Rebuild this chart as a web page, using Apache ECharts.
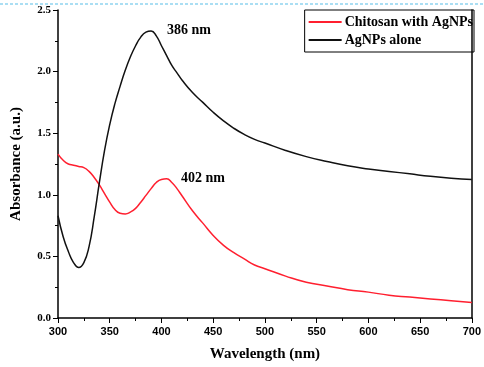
<!DOCTYPE html>
<html>
<head>
<meta charset="utf-8">
<script src="https://cdn.jsdelivr.net/npm/echarts@6/dist/echarts.min.js"></script>
<style>
  html, body { margin: 0; padding: 0; background: #fff; }
  #chart { width: 484px; height: 367px; }
</style>
</head>
<body>
<div id="chart"></div>
<script>
var wavelength = [300, 305, 310, 315, 320, 325, 330, 335, 340, 345, 350, 355, 360, 365, 370, 375, 380, 385, 390, 395,
    400, 405, 410, 415, 420, 430, 440, 450, 460, 470, 480, 490, 500, 520, 540, 560, 580, 600, 620, 640, 660, 680, 700];

var agAlone = [0.83, 0.66, 0.54, 0.45, 0.41, 0.45, 0.58, 0.82, 1.10, 1.36, 1.57, 1.74, 1.88, 2.01, 2.12, 2.21, 2.28, 2.32, 2.33, 2.29,
    2.21, 2.13, 2.05, 1.99, 1.93, 1.83, 1.75, 1.67, 1.60, 1.54, 1.49, 1.45, 1.42, 1.36, 1.31, 1.27, 1.235, 1.21, 1.19, 1.17, 1.15, 1.135, 1.125];

var chitosanAg = [1.33, 1.28, 1.25, 1.24, 1.23, 1.22, 1.19, 1.14, 1.08, 1.01, 0.94, 0.88, 0.85, 0.845, 0.86, 0.89, 0.94, 0.995, 1.05, 1.10,
    1.125, 1.13, 1.10, 1.05, 0.99, 0.87, 0.77, 0.67, 0.59, 0.53, 0.48, 0.43, 0.40, 0.34, 0.29, 0.26, 0.23, 0.21, 0.185, 0.17, 0.155, 0.14, 0.125];

var seriesNames = ['Chitosan with AgNPs', 'AgNPs alone'];
var peakLabels = [{ text: '386 nm', x: 167, y: 23 }, { text: '402 nm', x: 181, y: 171 }];

function pairs(ys) {
    var out = [];
    for (var i = 0; i < wavelength.length; i++) out.push([wavelength[i], ys[i]]);
    return out;
}

var serif = 'Liberation Serif, Times New Roman, serif';
var sans = 'Liberation Sans, Arial, sans-serif';

var myChart = echarts.init(document.getElementById('chart'));
var option = {
    animation: false,
    grid: { left: 58, right: 10, top: 10, bottom: 48 },
    legend: {
        orient: 'vertical',
        right: 10,
        top: 10,
        padding: [5, 1, 5, 4],
        itemGap: 4,
        itemWidth: 33,
        itemHeight: 2,
        icon: 'rect',
        borderColor: '#000',
        borderWidth: 1,
        data: seriesNames,
        textStyle: { fontFamily: serif, fontWeight: 'bold', fontSize: 14, color: '#000', padding: [0, 0, 0, -2] }
    },
    xAxis: {
        type: 'value',
        min: 300,
        max: 700,
        interval: 50,
        name: 'Wavelength (nm)',
        nameLocation: 'middle',
        nameGap: 29,
        nameTextStyle: { fontFamily: serif, fontWeight: 'bold', fontSize: 15, color: '#000' },
        axisLine: { lineStyle: { color: '#000', width: 1.5 } },
        axisTick: { length: 5, lineStyle: { color: '#000' } },
        minorTick: { show: true, splitNumber: 2, length: 3, lineStyle: { color: '#000' } },
        axisLabel: { fontFamily: sans, fontWeight: 'bold', fontSize: 11, color: '#000', margin: 8 },
        splitLine: { show: false }
    },
    yAxis: [{
        type: 'value',
        min: 0,
        max: 2.5,
        interval: 0.5,
        name: 'Absorbance (a.u.)',
        nameLocation: 'middle',
        nameGap: 34,
        nameTextStyle: { fontFamily: serif, fontWeight: 'bold', fontSize: 15, color: '#000' },
        axisLine: { show: true, lineStyle: { color: '#000', width: 1.5 } },
        axisTick: { show: true, length: 5, lineStyle: { color: '#000' } },
        minorTick: { show: true, splitNumber: 2, length: 3, lineStyle: { color: '#000' } },
        axisLabel: {
            fontFamily: serif, fontWeight: 'bold', fontSize: 11, color: '#000', margin: 7,
            formatter: function (v) { return v.toFixed(1); }
        },
        splitLine: { show: false }
    }, {
        type: 'value',
        min: 0,
        max: 2.5,
        position: 'right',
        axisLine: { show: true, lineStyle: { color: '#000', width: 1.5 } },
        axisTick: { show: false },
        axisLabel: { show: false },
        splitLine: { show: false }
    }],
    graphic: [{
        type: 'line',
        shape: { x1: 0, y1: 4, x2: 484, y2: 4 },
        style: { stroke: '#8fd3ef', lineWidth: 1.5, lineDash: [3, 2] }
    }].concat(peakLabels.map(function (p) {
        return {
            type: 'text', left: p.x, top: p.y,
            style: { text: p.text, fontFamily: serif, fontWeight: 'bold', fontSize: 14, fill: '#000' }
        };
    })),
    series: [{
        name: seriesNames[0],
        type: 'line',
        showSymbol: false,
        smooth: 0.5,
        color: '#ff1f2f',
        lineStyle: { width: 1.5 },
        data: pairs(chitosanAg)
    }, {
        name: seriesNames[1],
        type: 'line',
        showSymbol: false,
        smooth: 0.5,
        color: '#111',
        lineStyle: { width: 1.5 },
        data: pairs(agAlone)
    }]
};
myChart.setOption(option);
</script>
</body>
</html>
